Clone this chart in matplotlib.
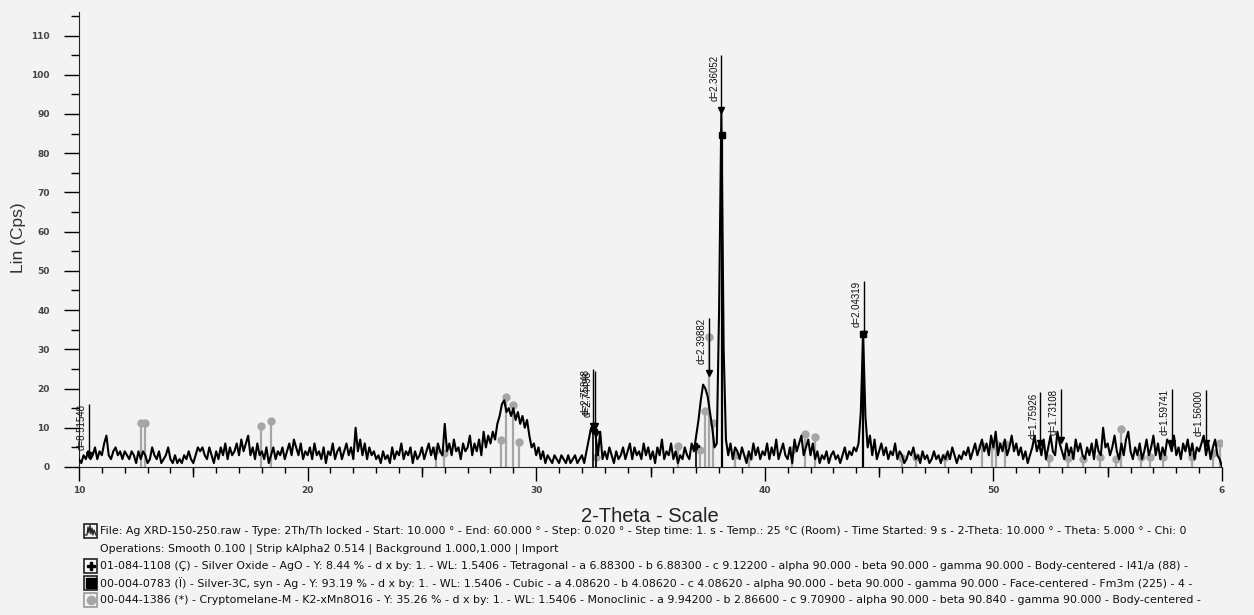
import numpy as np
import matplotlib.pyplot as plt
from matplotlib.ticker import MultipleLocator
from matplotlib.patches import Rectangle
from matplotlib.lines import Line2D

# ----------------------------
# 1. Scan data (0.1 deg steps)
# ----------------------------
scan_start = 10.0
scan_step = 0.1
counts = [
    2, 1, 3, 2, 4, 2, 3, 5, 2, 4,      # 10
    3, 6, 8, 3, 2, 4, 5, 3, 4, 2,      # 11
    4, 3, 2, 4, 3, 1, 4, 2, 4, 3,      # 12
    1, 2, 5, 3, 2, 4, 1, 2, 3, 5,      # 13
    2, 1, 3, 1, 2, 1, 3, 2, 4, 2,      # 14
    1, 3, 5, 4, 5, 3, 2, 5, 3, 1,      # 15
    4, 2, 5, 3, 6, 2, 5, 3, 4, 6,      # 16
    3, 7, 4, 6, 8, 3, 5, 2, 6, 3,      # 17
    4, 2, 5, 1, 3, 5, 2, 4, 3, 5,      # 18
    2, 4, 6, 3, 7, 5, 3, 6, 2, 4,      # 19
    3, 5, 2, 6, 3, 4, 2, 5, 1, 4,      # 20
    3, 6, 2, 4, 5, 2, 4, 6, 3, 5,      # 21
    2, 10, 4, 7, 3, 6, 2, 5, 3, 4,     # 22
    2, 3, 1, 4, 2, 3, 1, 5, 2, 4,      # 23
    3, 6, 2, 4, 3, 5, 1, 4, 2, 3,      # 24
    5, 2, 4, 6, 3, 5, 2, 6, 4, 3,      # 25
    11, 4, 6, 3, 7, 4, 5, 2, 6, 4,     # 26
    5, 8, 3, 6, 4, 7, 3, 9, 5, 8,      # 27
    6, 9, 7, 11, 13, 16, 17, 14, 15, 13,   # 28
    15, 12, 14, 11, 13, 10, 12, 8, 5, 6,   # 29
    3, 5, 2, 4, 1, 3, 2, 1, 3, 2,      # 30
    1, 3, 2, 1, 3, 1, 2, 3, 1, 2,      # 31
    3, 1, 4, 7, 10, 10, 8, 3, 9, 2,    # 32
    4, 2, 5, 3, 1, 4, 2, 3, 5, 2,      # 33
    4, 6, 2, 5, 3, 4, 2, 6, 3, 5,      # 34
    2, 4, 1, 5, 3, 7, 2, 4, 3, 6,      # 35
    2, 4, 1, 3, 2, 5, 3, 2, 6, 4,      # 36
    8, 12, 17, 21, 20, 18, 14, 10, 5, 6,   # 37
    40, 91, 30, 7, 3, 6, 2, 5, 4, 2,   # 38
    5, 3, 1, 4, 2, 6, 3, 5, 2, 4,      # 39
    3, 6, 2, 5, 3, 7, 2, 4, 6, 3,      # 40
    2, 5, 1, 7, 4, 6, 8, 3, 5, 7,      # 41
    3, 6, 2, 4, 1, 3, 2, 4, 1, 3,      # 42
    4, 2, 3, 1, 3, 5, 2, 4, 3, 5,      # 43
    4, 6, 14, 34, 13, 5, 8, 3, 7, 2,   # 44
    4, 6, 3, 5, 2, 4, 3, 6, 2, 4,      # 45
    3, 1, 2, 4, 3, 5, 2, 3, 1, 4,      # 46
    2, 3, 1, 2, 4, 2, 3, 1, 3, 2,      # 47
    4, 2, 5, 3, 1, 3, 2, 4, 3, 5,      # 48
    2, 4, 6, 3, 5, 7, 4, 6, 3, 8,      # 49
    5, 9, 3, 6, 4, 7, 3, 5, 8, 4,      # 50
    6, 3, 5, 2, 4, 1, 3, 5, 8, 4,      # 51
    6, 3, 7, 2, 5, 8, 4, 3, 9, 6,      # 52
    4, 2, 6, 3, 5, 2, 7, 4, 6, 3,      # 53
    2, 5, 3, 6, 2, 7, 4, 3, 10, 5,     # 54
    6, 3, 5, 8, 4, 2, 6, 3, 7, 9,      # 55
    4, 2, 5, 3, 6, 2, 4, 7, 3, 5,      # 56
    8, 3, 6, 2, 5, 3, 7, 6, 4, 8,      # 57
    3, 5, 2, 6, 4, 7, 3, 6, 2, 5,      # 58
    4, 6, 8, 3, 6, 2, 5, 7, 3, 2,      # 59
    0,                                 # 60
]
two_theta = scan_start + scan_step * np.arange(len(counts))

# ----------------------------
# 2. Reference patterns (stick positions / heights)
# ----------------------------
crypto_pos = [12.72, 12.9, 17.94, 18.38, 25.6, 25.96, 28.46, 28.68, 29.0, 29.25,
              32.6, 36.2, 37.15, 37.37, 37.55, 37.75, 38.68, 39.3, 41.2, 41.75,
              42.2, 46.0, 46.6, 47.9, 49.5, 49.96, 50.1, 50.5, 52.45, 53.25,
              53.9, 54.65, 55.35, 55.6, 56.45, 56.85, 57.4, 58.7, 59.6, 59.9]
crypto_int = [11.2, 11.2, 10.5, 11.7, 4.3, 3.6, 6.9, 17.9, 15.8, 6.4,
              2.5, 5.3, 4.3, 14.3, 33.2, 11.2, 3.1, 2.6, 4.3, 8.4,
              7.7, 2.3, 2.5, 2.5, 5.3, 5.3, 5.8, 5.8, 2.3, 2.3,
              2.0, 2.5, 2.0, 9.7, 2.5, 2.5, 2.5, 2.5, 3.5, 6.0]

silver_pos = [38.12, 44.30]
silver_int = [84.7, 34.0]

ago_pos = [32.5, 32.62, 37.0]
ago_int = [9.5, 8.8, 5.3]

# d-spacing peak labels
dlab_pos = [10.44, 32.47, 32.56, 37.55, 38.10, 44.33, 52.05, 52.95, 57.8, 59.3]
dlab_top = [16, 25, 24.5, 38, 105, 47.5, 19, 20, 20, 19.6]
dlab_peak = [3, 10.5, 10.5, 24, 91, 34, 6, 7, 6, 6]
dlab_text = ["d=8.51548", "d=2.75348", "d=2.74498", "d=2.39882", "d=2.36052",
             "d=2.04319", "d=1.75926", "d=1.73108", "d=1.59741", "d=1.56000"]

x_tick_vals = [10, 20, 30, 40, 50, 60]
x_tick_text = ["10", "20", "30", "40", "50", "6"]

legend_lines = [
    "File: Ag XRD-150-250.raw - Type: 2Th/Th locked - Start: 10.000 ° - End: 60.000 ° - Step: 0.020 ° - Step time: 1. s - Temp.: 25 °C (Room) - Time Started: 9 s - 2-Theta: 10.000 ° - Theta: 5.000 ° - Chi: 0",
    "Operations: Smooth 0.100 | Strip kAlpha2 0.514 | Background 1.000,1.000 | Import",
    "01-084-1108 (Ç) - Silver Oxide - AgO - Y: 8.44 % - d x by: 1. - WL: 1.5406 - Tetragonal - a 6.88300 - b 6.88300 - c 9.12200 - alpha 90.000 - beta 90.000 - gamma 90.000 - Body-centered - I41/a (88) -",
    "00-004-0783 (Ï) - Silver-3C, syn - Ag - Y: 93.19 % - d x by: 1. - WL: 1.5406 - Cubic - a 4.08620 - b 4.08620 - c 4.08620 - alpha 90.000 - beta 90.000 - gamma 90.000 - Face-centered - Fm3m (225) - 4 -",
    "00-044-1386 (*) - Cryptomelane-M - K2-xMn8O16 - Y: 35.26 % - d x by: 1. - WL: 1.5406 - Monoclinic - a 9.94200 - b 2.86600 - c 9.70900 - alpha 90.000 - beta 90.840 - gamma 90.000 - Body-centered -",
]

# ----------------------------
# 3. Figure
# ----------------------------
W, H = 1254, 615
bg = "#f3f3f3"
gray = "#a6a6a6"
fig = plt.figure(figsize=(W / 100, H / 100), dpi=100, facecolor=bg)
ax = fig.add_axes([79 / W, 148 / H, (1222 - 79) / W, 455 / H])
ax.set_facecolor(bg)

# reference sticks first, trace on top
ax.vlines(crypto_pos, 0, crypto_int, color=gray, lw=1.6, zorder=2)
ax.plot(crypto_pos, crypto_int, "o", color=gray, ms=5, zorder=2)
ax.vlines(silver_pos, 0, silver_int, color="black", lw=1.6, zorder=2)
ax.plot(silver_pos, silver_int, "s", color="black", ms=4, zorder=4)
ax.vlines(ago_pos, 0, ago_int, color="black", lw=1.2, zorder=2)
ax.plot(ago_pos, ago_int, "P", color="black", ms=5, zorder=4)

ax.plot(two_theta, counts, color="black", lw=1.5, zorder=3)

# peak labels
for xp, yt, yp, txt in zip(dlab_pos, dlab_top, dlab_peak, dlab_text):
    ax.vlines(xp, yp, yt, color="black", lw=1.0, zorder=4)
    ax.plot(xp, yp, "v", color="black", ms=5, zorder=5)
    ax.annotate(txt, (xp, yt), xytext=(-1.5, 0), textcoords="offset points",
                rotation=90, ha="right", va="top", fontsize=7,
                family="Liberation Sans", color="#111111", zorder=5)

ax.set_xlim(10, 60)
ax.set_ylim(0, 116)
for s in ["top", "right"]:
    ax.spines[s].set_visible(False)
ax.spines["left"].set_color("#222222")
ax.spines["bottom"].set_color("#222222")

ax.yaxis.set_major_locator(MultipleLocator(10))
ax.yaxis.set_minor_locator(MultipleLocator(5))
ax.set_xticks(x_tick_vals)
ax.set_xticklabels(x_tick_text)
ax.xaxis.set_minor_locator(MultipleLocator(1))
ax.tick_params(axis="y", which="major", direction="out", length=11, width=1,
               pad=10, labelsize=6.5, labelcolor="#444444")
ax.tick_params(axis="y", which="minor", direction="out", length=6, width=1)
ax.tick_params(axis="x", which="major", direction="out", length=10, width=1,
               pad=4, labelsize=6.5, labelcolor="#444444")
ax.tick_params(axis="x", which="minor", direction="out", length=4, width=1)
for lab in ax.get_xticklabels() + ax.get_yticklabels():
    lab.set_fontweight("bold")

# medium ticks at the 5s
sec = ax.secondary_xaxis("bottom")
sec.set_xticks([15, 25, 35, 45, 55])
sec.set_xticklabels([])
sec.tick_params(direction="out", length=7, width=1)
sec.spines["bottom"].set_visible(False)

fig.text(18 / W, 1 - 238 / H, "Lin (Cps)", rotation=90, fontsize=12.5,
         family="Liberation Sans", color="#333333", ha="center", va="center")
fig.text(650 / W, 1 - 517 / H, "2-Theta - Scale", fontsize=14.5,
         family="Liberation Sans", color="#222222", ha="center", va="center")

# ----------------------------
# 4. Legend block
# ----------------------------
def fx(x):
    return x / W


def fy(y):
    return 1 - y / H


line_y = [531, 549, 566, 583, 600]
for yy, txt in zip(line_y, legend_lines):
    fig.text(fx(100), fy(yy), txt, fontsize=7.95, family="DejaVu Sans",
             color="#111111", ha="left", va="center")

# icon boxes
icon_y = [531, 566, 583, 600]
icon_edge = ["#222222", "#222222", "#222222", "#999999"]
for yy, ec in zip(icon_y, icon_edge):
    fig.patches.append(Rectangle((fx(84), fy(yy + 7)), 13 / W, 14 / H,
                                 transform=fig.transFigure, fill=False,
                                 ec=ec, lw=1.2))
# wave icon
wave_x = [85, 87, 88, 89, 90, 91, 92, 93, 94, 96]
wave_y = [535, 535, 527, 533, 525, 534, 528, 535, 530, 535]
fig.lines.append(Line2D([fx(v) for v in wave_x], [fy(v) for v in wave_y],
                        transform=fig.transFigure, color="#222222", lw=0.9))
fig.lines.append(Line2D([fx(90.5)], [fy(566)], transform=fig.transFigure,
                        marker="P", color="black", ms=6))
fig.lines.append(Line2D([fx(90.5)], [fy(583)], transform=fig.transFigure,
                        marker="s", color="black", ms=7))
fig.lines.append(Line2D([fx(90.5)], [fy(600)], transform=fig.transFigure,
                        marker="o", color="#a6a6a6", ms=6))

fig.savefig("out.png", dpi=100, facecolor=bg)
